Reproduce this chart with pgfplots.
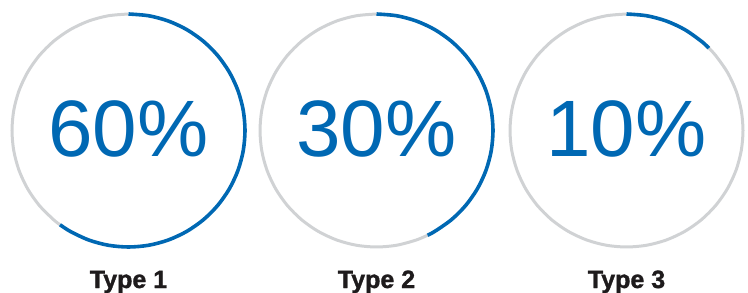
\documentclass[border=0pt]{standalone}
\usepackage{fontspec}
\setmainfont{Liberation Sans}
\newfontfamily\labfont{Liberation Sans}[BoldFeatures={FakeBold=1.3}]
\usepackage{pgfplots}
\pgfplotsset{compat=1.18}
\definecolor{ringblue}{RGB}{0,104,179}
\definecolor{ringgray}{RGB}{208,210,212}
\definecolor{labelblack}{RGB}{30,27,28}
\pgfplotsset{ring/.style={scale only axis, height=293bp, ymin=-162.5, ymax=130.5, hide axis, clip=false},
  bluearc/.style={ringblue, line width=3.6bp, smooth, data cs=polar, line cap=butt},
  grayarc/.style={ringgray, line width=3.0bp, smooth, data cs=polar, line cap=butt}}
\tikzset{bignum/.style={text=ringblue, anchor=base, font=\fontsize{80bp}{80bp}\selectfont},
  lab/.style={text=labelblack, anchor=base, inner sep=0pt, font=\labfont\fontsize{25bp}{25bp}\selectfont\bfseries}}
\begin{document}
\begin{tikzpicture}
\useasboundingbox (0,0) rectangle (748bp,293bp);
% Ring 1
\begin{axis}[ring, at={(0bp,0bp)}, width=252.5bp, xmin=-128.5, xmax=124]
\addplot[grayarc] coordinates {(-126,116.5) (-130,116.5) (-140,116.5) (-150,116.5) (-160,116.5) (-170,116.5) (-180,116.5) (-190,116.5) (-200,116.5) (-210,116.5) (-220,116.5) (-230,116.5) (-240,116.5) (-250,116.5) (-260,116.5) (-270,116.5)};
\addplot[bluearc] coordinates {(90,116.5) (80,116.5) (70,116.5) (60,116.5) (50,116.5) (40,116.5) (30,116.5) (20,116.5) (10,116.5) (0,116.5) (-10,116.5) (-20,116.5) (-30,116.5) (-40,116.5) (-50,116.5) (-60,116.5) (-70,116.5) (-80,116.5) (-90,116.5) (-100,116.5) (-110,116.5) (-120,116.5) (-126,116.5)};
\node[bignum] at (axis cs:0,-26.5) {60\%};
\node[lab] at (axis cs:0,-157.5) {Type 1};
\end{axis}
% Ring 2
\begin{axis}[ring, at={(252.5bp,0bp)}, width=249bp, xmin=-124, xmax=125]
\addplot[grayarc] coordinates {(-64,116.5) (-70,116.5) (-80,116.5) (-90,116.5) (-100,116.5) (-110,116.5) (-120,116.5) (-130,116.5) (-140,116.5) (-150,116.5) (-160,116.5) (-170,116.5) (-180,116.5) (-190,116.5) (-200,116.5) (-210,116.5) (-220,116.5) (-230,116.5) (-240,116.5) (-250,116.5) (-260,116.5) (-270,116.5)};
\addplot[bluearc] coordinates {(90,116.5) (80,116.5) (70,116.5) (60,116.5) (50,116.5) (40,116.5) (30,116.5) (20,116.5) (10,116.5) (0,116.5) (-10,116.5) (-20,116.5) (-30,116.5) (-40,116.5) (-50,116.5) (-60,116.5) (-64,116.5)};
\node[bignum] at (axis cs:0,-26.5) {30\%};
\node[lab] at (axis cs:0,-157.5) {Type 2};
\end{axis}
% Ring 3
\begin{axis}[ring, at={(501.5bp,0bp)}, width=246.5bp, xmin=-125, xmax=121.5]
\addplot[grayarc] coordinates {(45,116.5) (40,116.5) (30,116.5) (20,116.5) (10,116.5) (0,116.5) (-10,116.5) (-20,116.5) (-30,116.5) (-40,116.5) (-50,116.5) (-60,116.5) (-70,116.5) (-80,116.5) (-90,116.5) (-100,116.5) (-110,116.5) (-120,116.5) (-130,116.5) (-140,116.5) (-150,116.5) (-160,116.5) (-170,116.5) (-180,116.5) (-190,116.5) (-200,116.5) (-210,116.5) (-220,116.5) (-230,116.5) (-240,116.5) (-250,116.5) (-260,116.5) (-270,116.5)};
\addplot[bluearc] coordinates {(90,116.5) (80,116.5) (70,116.5) (60,116.5) (50,116.5) (45,116.5)};
\node[bignum] at (axis cs:0,-26.5) {10\%};
\node[lab] at (axis cs:0,-157.5) {Type 3};
\end{axis}
\end{tikzpicture}
\end{document}
